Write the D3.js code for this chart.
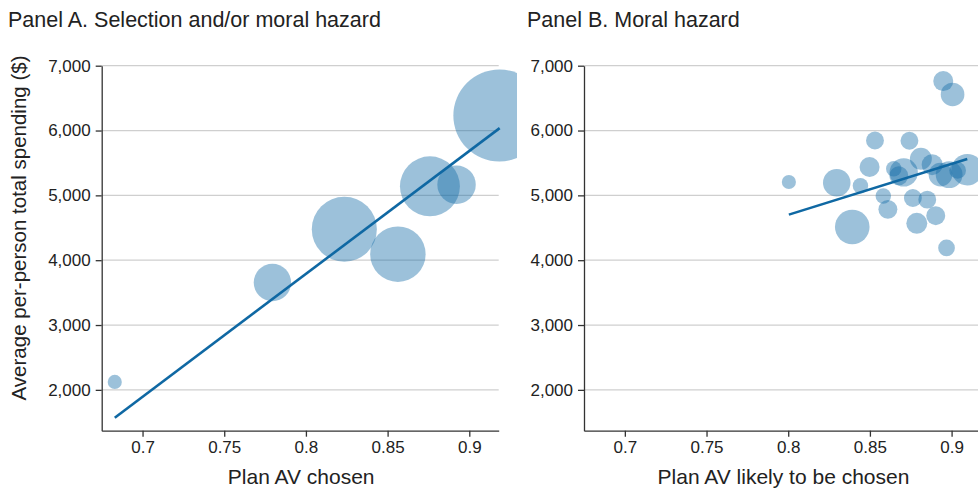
<!DOCTYPE html>
<html>
<head>
<meta charset="utf-8">
<script src="https://cdn.jsdelivr.net/npm/d3@7"></script>
<style>
  body { margin: 0; background: #fff; }
  svg { display: block; font-family: "Liberation Sans", Arial, sans-serif; }
  .grid line { stroke: #cfcfcf; stroke-width: 1.3; }
  .axis path, .axis line { stroke: #333; stroke-width: 1.3; }
  .axis text { fill: #222; font-size: 17px; }
</style>
</head>
<body>
<svg id="chart" width="978" height="489"></svg>
<script>
// ---- data ----
// Panel A: plan AV chosen vs spending, bubble size = relative enrollment
var avA    = [0.683, 0.7795, 0.8235, 0.8563, 0.8759, 0.8922, 0.9184];
var spendA = [2123, 3655, 4478, 4092, 5139, 5165, 6231];
var sizeA  = [5, 35, 106, 77, 90, 37, 212];
var fitA_x = [0.683, 0.9186];
var fitA_y = [1570, 6037];

// Panel B: plan AV likely to be chosen vs spending
var avB    = [0.8004, 0.8297, 0.8392, 0.8442, 0.8498, 0.8531, 0.8582, 0.861, 0.8646, 0.8677,
              0.8707, 0.8742, 0.8763, 0.8787, 0.8812, 0.8851, 0.8881, 0.8903, 0.8932, 0.8949,
              0.8969, 0.8985, 0.9006, 0.9037, 0.9096];
var spendB = [5206, 5196, 4513, 5149, 5437, 5847, 4990, 4784, 5411, 5303,
              5354, 5843, 4960, 4569, 5565, 4934, 5473, 4687, 5319, 6763,
              4190, 5319, 6556, 5385, 5396];
var sizeB  = [5, 19, 30, 6, 10, 8, 6, 9, 6, 9,
              20, 8, 8, 11, 12, 8, 11, 9, 14, 10,
              7, 18, 14, 7, 25];
var fitB_x = [0.8004, 0.9096];
var fitB_y = [4703, 5561];

var xTicks = [0.7, 0.75, 0.8, 0.85, 0.9];
var yTicks = [2000, 3000, 4000, 5000, 6000, 7000];

var titles  = ['Panel A. Selection and/or moral hazard', 'Panel B. Moral hazard'];
var xTitles = ['Plan AV chosen', 'Plan AV likely to be chosen'];
var yTitle  = 'Average per-person total spending ($)';

// ---- layout ----
var svg = d3.select('#chart');
var bubbleFill = 'rgb(20,108,168)', lineColor = '#0f68a3';

var y = d3.scaleLinear().domain([1370, 7000]).range([430.7, 65.7]);
var r = d3.scaleSqrt().domain([0, 100]).range([0, 31.6]);

var panels = [
  { left: 101.7, titleX: 8,   clipRight: 517, av: avA, spend: spendA, size: sizeA, fx: fitA_x, fy: fitA_y },
  { left: 584,   titleX: 527, clipRight: 978, av: avB, spend: spendB, size: sizeB, fx: fitB_x, fy: fitB_y }
];

panels.forEach(function(p, i) {
  var x = d3.scaleLinear().domain([0.675, 0.918]).range([p.left, p.left + 397]);
  var g = svg.append('g');

  // gridlines
  g.append('g').attr('class', 'grid')
    .selectAll('line').data(yTicks).enter().append('line')
    .attr('x1', x.range()[0]).attr('x2', x.range()[1])
    .attr('y1', function(d) { return y(d); }).attr('y2', function(d) { return y(d); });

  // bubbles, clipped at the panel gap
  var clipId = 'clip' + i;
  svg.append('clipPath').attr('id', clipId).append('rect')
    .attr('x', 0).attr('y', 0).attr('width', p.clipRight).attr('height', 489);

  g.append('g').attr('clip-path', 'url(#' + clipId + ')')
    .selectAll('circle').data(p.av).enter().append('circle')
    .attr('cx', function(d) { return x(d); })
    .attr('cy', function(d, j) { return y(p.spend[j]); })
    .attr('r', function(d, j) { return r(p.size[j]); })
    .attr('fill', bubbleFill)
    .attr('fill-opacity', 0.42);

  // fitted line
  var line = d3.line()
    .x(function(d) { return x(d); })
    .y(function(d, j) { return y(p.fy[j]); });
  g.append('path').datum(p.fx)
    .attr('d', line)
    .attr('fill', 'none')
    .attr('stroke', lineColor)
    .attr('stroke-width', 2.6);

  // axes
  g.append('g').attr('class', 'axis')
    .attr('transform', 'translate(0,' + y.range()[0] + ')')
    .call(d3.axisBottom(x).tickValues(xTicks).tickSize(6).tickSizeOuter(0).tickPadding(4)
      .tickFormat(function(d) { return String(d); }));
  g.append('g').attr('class', 'axis')
    .attr('transform', 'translate(' + p.left + ',0)')
    .call(d3.axisLeft(y).tickValues(yTicks).tickSize(6).tickSizeOuter(0).tickPadding(5)
      .tickFormat(d3.format(',')));

  // titles
  g.append('text')
    .attr('x', p.titleX).attr('y', 27.3)
    .attr('fill', '#222').style('font-size', '21.5px')
    .text(titles[i]);
  g.append('text')
    .attr('x', (x.range()[0] + x.range()[1]) / 2 + 1).attr('y', 483.5)
    .attr('text-anchor', 'middle')
    .attr('fill', '#222').style('font-size', '21px')
    .text(xTitles[i]);
});

svg.append('text')
  .attr('transform', 'translate(26,228) rotate(-90)')
  .attr('text-anchor', 'middle')
  .attr('fill', '#222').style('font-size', '20.5px')
  .text(yTitle);
</script>
</body>
</html>
